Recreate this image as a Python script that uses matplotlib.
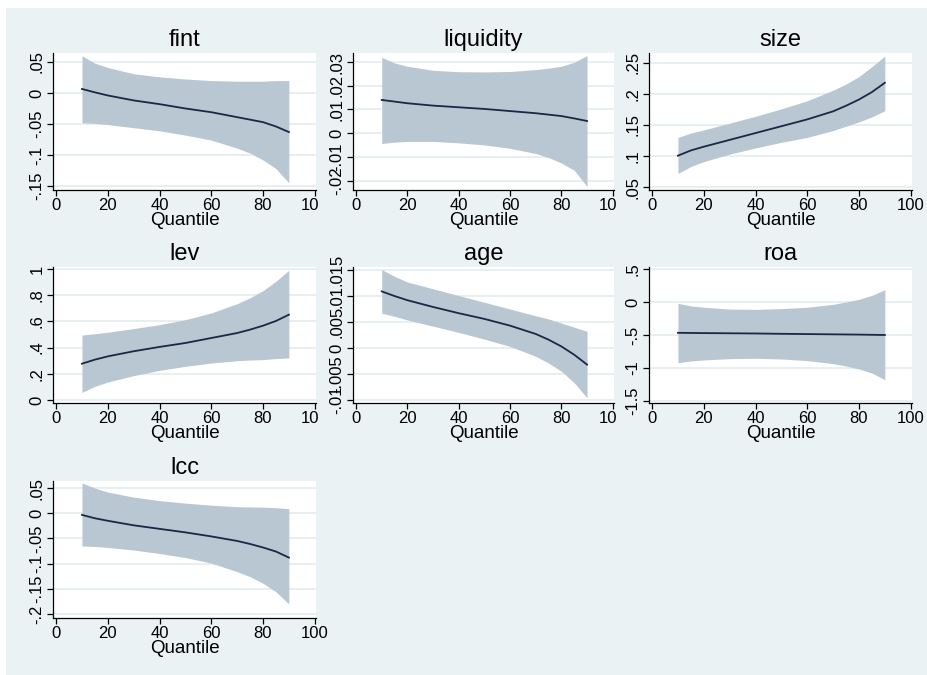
import matplotlib
matplotlib.use("Agg")
from matplotlib import pyplot as plt
from matplotlib.patches import Rectangle

plt.rcParams["font.family"] = ["Liberation Sans", "DejaVu Sans"]

# quantiles at which the estimates were read
quantiles = [10, 15, 20, 30, 40, 50, 60, 70, 75, 80, 85, 90]

fint_coef = [0.0065, 0.001, -0.004, -0.012, -0.018, -0.025, -0.031, -0.039, -0.043, -0.047, -0.054, -0.063]
fint_hi = [0.060, 0.048, 0.041, 0.031, 0.026, 0.0226, 0.020, 0.019, 0.019, 0.019, 0.020, 0.020]
fint_lo = [-0.048, -0.049, -0.051, -0.056, -0.061, -0.068, -0.076, -0.089, -0.097, -0.108, -0.122, -0.145]

liq_coef = [0.0140, 0.0133, 0.0126, 0.0116, 0.0109, 0.0102, 0.0093, 0.0084, 0.0078, 0.0072, 0.0062, 0.0051]
liq_hi = [0.032, 0.0296, 0.0282, 0.0265, 0.0259, 0.0258, 0.026, 0.0268, 0.0274, 0.0282, 0.0299, 0.0327]
liq_lo = [-0.0044, -0.0038, -0.0035, -0.0035, -0.0041, -0.005, -0.0064, -0.0086, -0.0103, -0.0126, -0.0157, -0.0225]

size_coef = [0.1005, 0.109, 0.115, 0.126, 0.137, 0.148, 0.159, 0.172, 0.181, 0.191, 0.203, 0.218]
size_hi = [0.130, 0.137, 0.142, 0.153, 0.164, 0.176, 0.189, 0.206, 0.216, 0.228, 0.244, 0.261]
size_lo = [0.072, 0.083, 0.091, 0.103, 0.113, 0.122, 0.130, 0.141, 0.148, 0.155, 0.163, 0.173]

lev_coef = [0.277, 0.308, 0.333, 0.372, 0.405, 0.435, 0.473, 0.511, 0.537, 0.567, 0.603, 0.651]
lev_hi = [0.496, 0.506, 0.517, 0.545, 0.575, 0.613, 0.664, 0.735, 0.780, 0.834, 0.906, 0.99]
lev_lo = [0.058, 0.104, 0.137, 0.186, 0.226, 0.257, 0.282, 0.300, 0.305, 0.308, 0.316, 0.321]

age_coef = [0.0109, 0.0100, 0.0092, 0.0079, 0.0067, 0.0056, 0.0043, 0.0027, 0.0016, 0.0003, -0.0013, -0.0032]
age_hi = [0.0151, 0.0138, 0.0127, 0.0114, 0.0101, 0.0088, 0.0075, 0.0062, 0.0056, 0.0048, 0.0040, 0.0032]
age_lo = [0.0067, 0.0061, 0.0054, 0.0042, 0.0030, 0.0017, 0.0003, -0.0016, -0.0029, -0.0045, -0.0067, -0.0096]

roa_coef = [-0.467, -0.469, -0.471, -0.474, -0.477, -0.482, -0.486, -0.490, -0.492, -0.494, -0.497, -0.500]
roa_hi = [-0.02, -0.06, -0.08, -0.107, -0.112, -0.10, -0.08, -0.036, 0.0, 0.04, 0.10, 0.185]
roa_lo = [-0.919, -0.893, -0.878, -0.858, -0.853, -0.863, -0.888, -0.934, -0.97, -1.015, -1.076, -1.178]

lcc_coef = [-0.0033, -0.010, -0.015, -0.024, -0.031, -0.038, -0.046, -0.055, -0.061, -0.068, -0.076, -0.088]
lcc_hi = [0.060, 0.050, 0.042, 0.032, 0.025, 0.020, 0.016, 0.013, 0.0125, 0.012, 0.011, 0.009]
lcc_lo = [-0.065, -0.066, -0.068, -0.073, -0.080, -0.088, -0.099, -0.116, -0.126, -0.139, -0.156, -0.180]

xticks = [0, 20, 40, 60, 80, 100]

panels = [
    ("fint", fint_coef, fint_lo, fint_hi, [-0.15, -0.1, -0.05, 0, 0.05], (-0.1565, 0.0645)),
    ("liquidity", liq_coef, liq_lo, liq_hi, [-0.02, -0.01, 0, 0.01, 0.02, 0.03], (-0.024, 0.0338)),
    ("size", size_coef, size_lo, size_hi, [0.05, 0.1, 0.15, 0.2, 0.25], (0.0452, 0.266)),
    ("lev", lev_coef, lev_lo, lev_hi, [0, 0.2, 0.4, 0.6, 0.8, 1], (-0.023, 1.015)),
    ("age", age_coef, age_lo, age_hi, [-0.01, -0.005, 0, 0.005, 0.01, 0.015], (-0.0106, 0.0156)),
    ("roa", roa_coef, roa_lo, roa_hi, [-1.5, -1, -0.5, 0, 0.5], (-1.53, 0.53)),
    ("lcc", lcc_coef, lcc_lo, lcc_hi, [-0.2, -0.15, -0.1, -0.05, 0, 0.05], (-0.208, 0.064)),
]

bg = "#eaf2f3"
band = "#b9c7d3"
line = "#1a2745"

W, H = 927, 675
fig = plt.figure(figsize=(W / 100, H / 100), dpi=100)
fig.patch.set_facecolor("white")
fig.patches.append(Rectangle((6 / W, 0), 1, 1 - 8 / H, transform=fig.transFigure,
                             facecolor=bg, edgecolor="none", zorder=-10))

def stata_fmt(v):
    s = f"{v:g}"
    return s.replace("0.", ".")

# pixel boxes of the plot regions (left, right) and (top, bottom)
cols = [(53, 316), (353, 614), (649, 912)]
rows = [(53, 190), (267, 403), (481, 618)]
cell_left = [6, 318, 617]

for i, (name, coef, lo, hi, yt, ylim) in enumerate(panels):
    r, c = divmod(i, 3)
    x0, x1 = cols[c]
    t, b = rows[r]
    z = i * 2 + 1
    # graph region of each sub-graph (covers overflow from the neighbour)
    if c > 0:
        cw = (W - cell_left[c]) if c == 2 else (cell_left[c + 1] - cell_left[c])
        fig.patches.append(Rectangle((cell_left[c] / W, 1 - (b + 40) / H), cw / W,
                                     (b - t + 75) / H, transform=fig.transFigure,
                                     facecolor=bg, edgecolor="none", zorder=z - 0.5))
    ax = fig.add_axes([x0 / W, 1 - b / H, (x1 - x0) / W, (b - t) / H])
    ax.set_zorder(z)
    ax.set_facecolor("white")
    ax.fill_between(quantiles, lo, hi, color=band, linewidth=0, zorder=2)
    ax.plot(quantiles, coef, color=line, linewidth=1.3, zorder=3)
    ax.set_xlim(-1.2, 100.5)
    ax.set_ylim(*ylim)
    ax.set_xticks(xticks)
    ax.set_yticks(yt)
    ax.set_yticklabels([stata_fmt(v) for v in yt])
    ax.grid(axis="y", color="#e3ecef", linewidth=1.2, zorder=1)
    ax.set_axisbelow(True)
    for s in ["top", "right"]:
        ax.spines[s].set_visible(False)
    for s in ["left", "bottom"]:
        ax.spines[s].set_color("black")
        ax.spines[s].set_linewidth(0.9)
    ax.tick_params(axis="both", direction="out", length=4, width=0.9, labelsize=12, pad=2)
    ax.tick_params(axis="y", labelrotation=90)
    for lab in ax.get_yticklabels():
        lab.set_va("center")
    ax.set_title(name, fontsize=17, pad=5)
    ax.set_xlabel("Quantile", fontsize=13.5, labelpad=-1)

fig.savefig("out.png", dpi=100, facecolor=fig.get_facecolor())
